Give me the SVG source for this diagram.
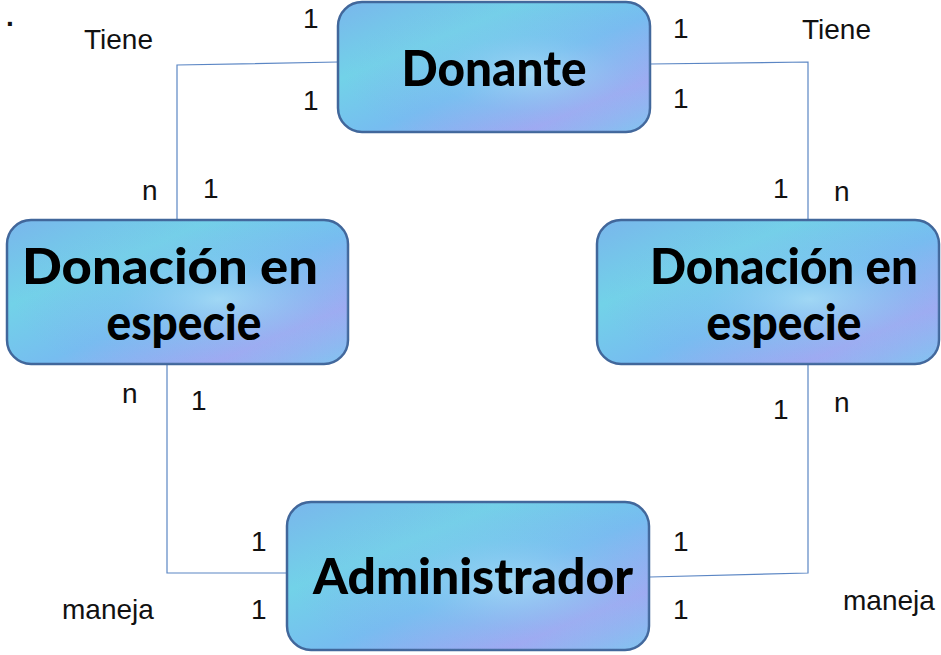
<svg xmlns="http://www.w3.org/2000/svg" width="941" height="655" viewBox="0 0 941 655">
<style>
.box{stroke:#41679b;stroke-width:2.5}
.conn{fill:none;stroke:#5b86c4;stroke-width:1.2}
.lbl{font-family:"Liberation Sans","Open Sans",sans-serif;font-size:28px;fill:#111}
.title{font-family:Lato,"Open Sans","Liberation Sans",sans-serif;font-weight:900;font-size:50px;fill:#000;text-anchor:middle}
</style>
<defs>
<linearGradient id="g" x1="0" y1="0" x2="1" y2="1">
<stop offset="0" stop-color="#79b6ec"/>
<stop offset="0.3" stop-color="#72d2e8"/>
<stop offset="0.55" stop-color="#76bdf0"/>
<stop offset="0.8" stop-color="#a0a8f2"/>
<stop offset="1" stop-color="#80c6f0"/>
</linearGradient>
<radialGradient id="r" cx="0.62" cy="0.55" r="0.6">
<stop offset="0" stop-color="#b0e4f6" stop-opacity="0.7"/>
<stop offset="0.5" stop-color="#8cc8f0" stop-opacity="0.2"/>
<stop offset="1" stop-color="#9a9cf0" stop-opacity="0"/>
</radialGradient>
</defs>
<g id="connectors">
<polyline class="conn" points="338,62 177,65 177,220"/>
<polyline class="conn" points="650,64 808,62 808,220"/>
<polyline class="conn" points="167,364 167,573 288,573"/>
<polyline class="conn" points="808,364 808,573 650,577"/>
</g>
<g id="donante">
<rect class="box" x="338" y="2" width="312" height="130" rx="24" fill="url(#g)"/>
<rect x="338" y="2" width="312" height="130" rx="24" fill="url(#r)"/>
<text class="title" x="494" y="86" textLength="185" lengthAdjust="spacingAndGlyphs">Donante</text>
</g>
<g id="donacion-izq">
<rect class="box" x="7" y="220" width="341" height="144" rx="24" fill="url(#g)"/>
<rect x="7" y="220" width="341" height="144" rx="24" fill="url(#r)"/>
<text class="title" x="170" y="284" textLength="296" lengthAdjust="spacingAndGlyphs">Donación en</text>
<text class="title" x="184" y="340" textLength="155" lengthAdjust="spacingAndGlyphs">especie</text>
</g>
<g id="donacion-der">
<rect class="box" x="597" y="220" width="342" height="144" rx="24" fill="url(#g)"/>
<rect x="597" y="220" width="342" height="144" rx="24" fill="url(#r)"/>
<text class="title" x="784" y="284" textLength="268" lengthAdjust="spacingAndGlyphs">Donación en</text>
<text class="title" x="784" y="340" textLength="155" lengthAdjust="spacingAndGlyphs">especie</text>
</g>
<g id="administrador">
<rect class="box" x="287" y="502" width="362" height="148" rx="24" fill="url(#g)"/>
<rect x="287" y="502" width="362" height="148" rx="24" fill="url(#r)"/>
<text class="title" x="473" y="594" textLength="320" lengthAdjust="spacingAndGlyphs">Administrador</text>
</g>
<g id="labels">
<text class="lbl" x="6" y="26" font-weight="bold">.</text>
<text class="lbl" x="84" y="49">Tiene</text>
<text class="lbl" x="802" y="39">Tiene</text>
<text class="lbl" x="303" y="28">1</text>
<text class="lbl" x="673" y="38">1</text>
<text class="lbl" x="303" y="110">1</text>
<text class="lbl" x="673" y="108">1</text>
<text class="lbl" x="142" y="200">n</text>
<text class="lbl" x="203" y="198">1</text>
<text class="lbl" x="773" y="198">1</text>
<text class="lbl" x="834" y="201">n</text>
<text class="lbl" x="122" y="403">n</text>
<text class="lbl" x="191" y="410">1</text>
<text class="lbl" x="773" y="419">1</text>
<text class="lbl" x="834" y="412">n</text>
<text class="lbl" x="251" y="551">1</text>
<text class="lbl" x="673" y="551">1</text>
<text class="lbl" x="251" y="619">1</text>
<text class="lbl" x="673" y="619">1</text>
<text class="lbl" x="62" y="619">maneja</text>
<text class="lbl" x="843" y="610">maneja</text>
</g>
</svg>
